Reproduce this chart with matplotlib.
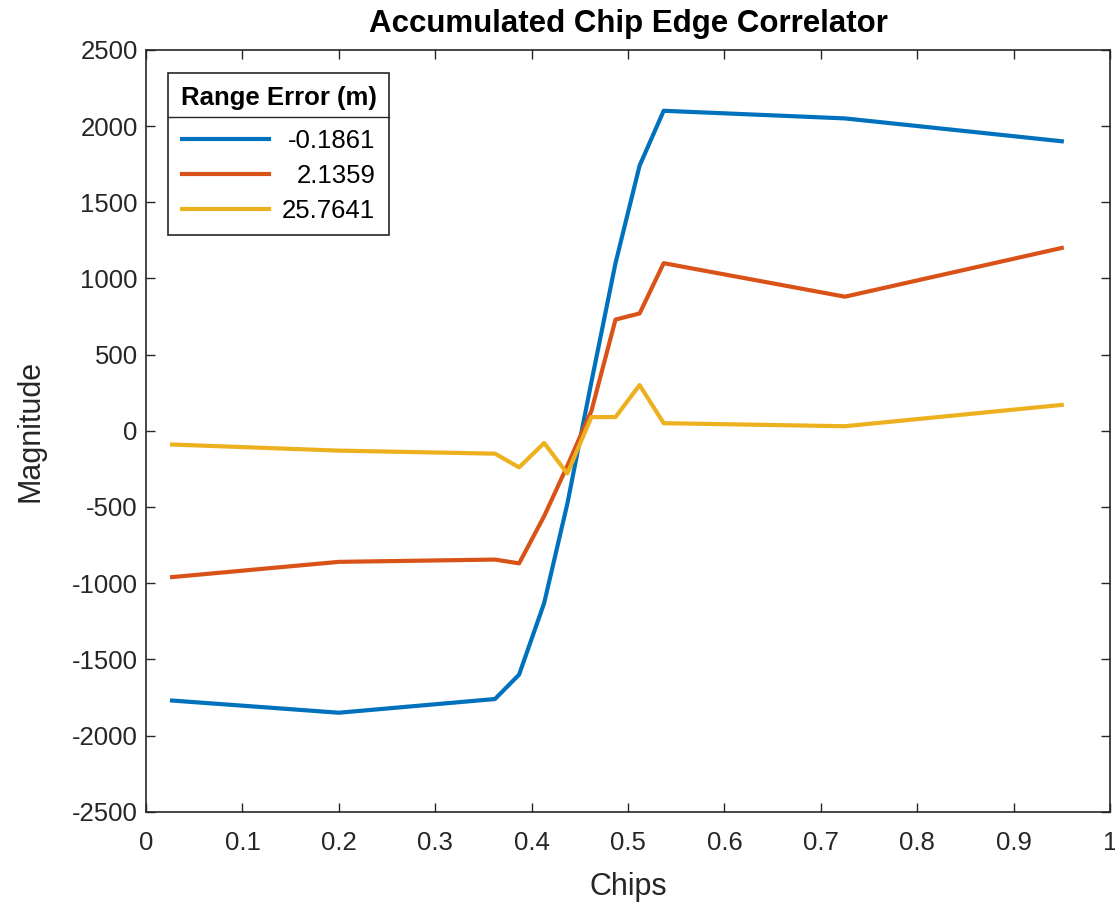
import numpy as np
import matplotlib.pyplot as plt
import matplotlib.transforms as mtransforms
from matplotlib.lines import Line2D

plt.rcParams['font.family'] = ['Liberation Sans', 'DejaVu Sans']
plt.rcParams['axes.unicode_minus'] = False

# chip offsets (x) and correlator magnitude for each range error
chips = [0.027, 0.2, 0.362, 0.387, 0.413, 0.437, 0.462, 0.487, 0.512, 0.537, 0.725, 0.95]
mag_a = [-1770, -1850, -1760, -1600, -1130, -480, 320, 1100, 1740, 2100, 2050, 1900]
mag_b = [-960, -860, -845, -870, -560, -230, 130, 730, 770, 1100, 880, 1200]
mag_c = [-90, -130, -150, -240, -80, -280, 90, 90, 300, 50, 30, 170]
range_err = ['-0.1861', '2.1359', '25.7641']
colors = ['#0072BD', '#D95319', '#EDB120']

fig = plt.figure(figsize=(11.15, 9.06), dpi=100)
ax = fig.add_axes([0.131, 0.104, 0.8645, 0.841])

for y, lab, c in zip([mag_a, mag_b, mag_c], range_err, colors):
    ax.plot(chips, y, color=c, lw=3.0, label=lab)

ax.set_xlim(0, 1)
ax.set_ylim(-2500, 2500)
ax.set_xticks(np.arange(0, 1.01, 0.1))
ax.set_xticklabels(['0', '0.1', '0.2', '0.3', '0.4', '0.5', '0.6', '0.7', '0.8', '0.9', '1'])
ax.set_yticks(np.arange(-2500, 2501, 500))
ax.tick_params(direction='in', top=True, right=True, length=6.5, width=1,
               labelsize=18.5, colors='#262626')
ax.tick_params(axis='x', pad=14)
ax.tick_params(axis='y', pad=6)
for s in ax.spines.values():
    s.set_color('#262626')
    s.set_linewidth(1.2)

ax.set_title('Accumulated Chip Edge Correlator', fontsize=22.5, fontweight='bold', pad=13)
ax.set_xlabel('Chips', fontsize=22, color='#262626', labelpad=12)
ax.set_ylabel('Magnitude', fontsize=22, color='#262626', labelpad=19)

leg = ax.legend(title='Range Error (m)', loc='upper left', fontsize=18.5,
                title_fontproperties={'weight': 'bold', 'size': 18.5},
                handlelength=3.4, handletextpad=0.5, borderpad=0.5,
                labelspacing=0.42, borderaxespad=0, fancybox=False,
                edgecolor='#262626', framealpha=1, bbox_to_anchor=(0.0225, 0.97))
leg.get_frame().set_linewidth(1.2)
leg._legend_box.sep = 14

# right-align legend labels and add separator under the title, like MATLAB
fig.canvas.draw()
texts = leg.get_texts()
widths = [t.get_window_extent().width for t in texts]
wmax = max(widths)
for t, w in zip(texts, widths):
    t.set_transform(t.get_transform() + mtransforms.Affine2D().translate(wmax - w, 0))
fb = leg.get_frame().get_window_extent()
tb = leg.get_title().get_window_extent()
ysep = tb.y0 - 7
fig.add_artist(Line2D([fb.x0, fb.x1], [ysep, ysep], transform=mtransforms.IdentityTransform(),
                      color='#262626', lw=1.0))

fig.savefig('out.png', dpi=100)
